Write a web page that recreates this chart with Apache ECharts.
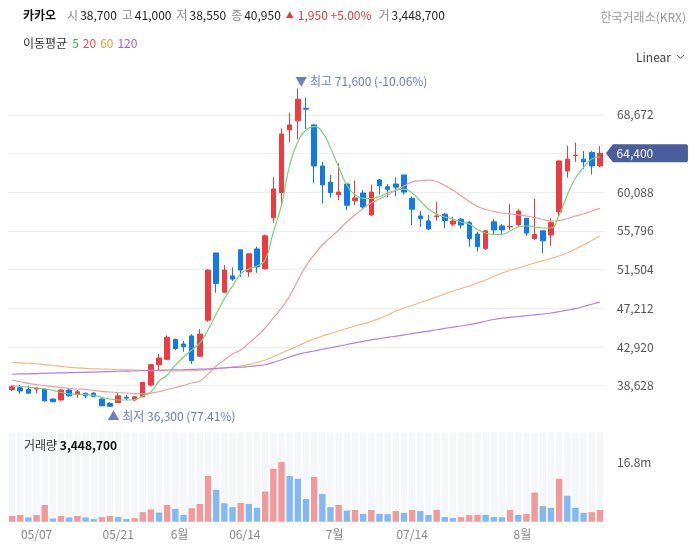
<!DOCTYPE html>
<html>
<head>
<meta charset="utf-8">
<script src="https://cdn.jsdelivr.net/npm/echarts@6.0.0/dist/echarts.min.js"></script>
<style>
html, body { margin: 0; padding: 0; background: #fff; }
#chart { width: 697px; height: 549px; }
</style>
</head>
<body>
<div id="chart"></div>
<script>
const dates = [
    '04/29', '04/30', '05/02', '05/07', '05/08', '05/09', '05/12', '05/13', '05/14', '05/15',
    '05/16', '05/19', '05/20', '05/21', '05/22', '05/23', '05/26', '05/27', '05/28', '05/29',
    '05/30', '06/02', '06/04', '06/05', '06/09', '06/10', '06/11', '06/12', '06/13', '06/16',
    '06/17', '06/18', '06/19', '06/20', '06/23', '06/24', '06/25', '06/26', '06/27', '06/30',
    '07/01', '07/02', '07/03', '07/04', '07/07', '07/08', '07/09', '07/10', '07/11', '07/14',
    '07/15', '07/16', '07/17', '07/18', '07/21', '07/22', '07/23', '07/24', '07/25', '07/28',
    '07/29', '07/30', '07/31', '08/01', '08/04', '08/05', '08/06', '08/07', '08/08', '08/11',
    '08/12', '08/13', '08/14'
]

const opens = [
    38200, 38400, 38200, 38250, 38250, 37150, 37050, 38150, 37650, 37800,
    37800, 37150, 36650, 36750, 37350, 37050, 37400, 38700, 40950, 41550,
    43750, 43250, 44150, 41900, 45900, 53350, 49000, 50800, 53700, 51250,
    53800, 51600, 57250, 60050, 67000, 68000, 69400, 67550, 63000, 61200,
    59800, 61000, 59150, 60000, 57550, 61450, 60700, 61000, 62000, 59400,
    57450, 56900, 57400, 57650, 56550, 57100, 56700, 55450, 53850, 56800,
    56350, 56250, 56500, 57200, 54950, 55800, 55350, 57900, 62450, 64150,
    63750, 64500, 63000
]
const closes = [
    38500, 38050, 37800, 38350, 36950, 36850, 38150, 37500, 37950, 37500,
    37450, 36400, 36350, 37500, 37250, 37400, 39000, 40950, 41700, 44000,
    42750, 42950, 41400, 44350, 51450, 49950, 51450, 50450, 51450, 53250,
    51800, 55250, 60450, 66550, 67550, 70400, 69300, 63000, 60900, 60050,
    60100, 58650, 59450, 58450, 60100, 60800, 60400, 60650, 60100, 58200,
    57150, 56000, 57450, 56950, 56900, 56450, 54950, 54050, 55800, 55900,
    55900, 56300, 58000, 55550, 55400, 54700, 56700, 63550, 63750, 64200,
    63450, 63000, 64400
]
const lows = [
    38050, 37750, 37800, 37800, 36850, 36800, 36950, 37400, 37300, 37250,
    37350, 36350, 36300, 36700, 37050, 36950, 37350, 38550, 40300, 41500,
    42600, 42400, 41050, 41850, 45700, 48950, 48950, 50250, 50700, 50700,
    51150, 51500, 56700, 58550, 65600, 65950, 67100, 61050, 58850, 59500,
    59200, 58100, 58650, 58200, 57500, 59850, 59500, 59650, 59850, 56450,
    56250, 55900, 56950, 56100, 56350, 56050, 54050, 53500, 53700, 55400,
    55300, 55900, 56250, 55250, 54800, 53300, 54100, 57300, 61700, 63450,
    62650, 62050, 62850
]
const highs = [
    38650, 38700, 38650, 38500, 38300, 37200, 38200, 38250, 38150, 37850,
    37900, 37200, 36800, 37950, 37600, 37500, 39050, 41000, 42150, 44200,
    43850, 43600, 44350, 44900, 51550, 53350, 52000, 51750, 53700, 53300,
    54050, 55400, 61750, 67150, 68850, 71600, 70600, 67600, 63450, 62000,
    63300, 61000, 61350, 60350, 60950, 61550, 61000, 61750, 62000, 59600,
    58000, 57550, 59050, 57800, 57350, 57200, 56900, 55700, 55850, 57100,
    56550, 58800, 58200, 57250, 59350, 55900, 57200, 63600, 65250, 65600,
    64650, 64650, 65200
]
const volumes = [
    1600000, 1900000, 1200000, 1900000, 4700000, 900000, 1600000, 1200000, 1600000, 1200000,
    750000, 1300000, 1600000, 1300000, 750000, 1000000, 2700000, 3448700, 2600000, 4700000,
    3600000, 1900000, 3800000, 5000000, 12900000, 9000000, 5200000, 4100000, 5300000, 5000000,
    3900000, 8500000, 14900000, 16800000, 12900000, 12100000, 6400000, 12600000, 7800000, 4100000,
    4700000, 3100000, 3300000, 2200000, 3300000, 2200000, 2150000, 3000000, 2500000, 3300000,
    3000000, 1900000, 3300000, 1300000, 1000000, 1300000, 1850000, 1950000, 1900000, 1300000,
    1250000, 3300000, 1900000, 2200000, 8200000, 4400000, 3900000, 12100000, 7300000, 3900000,
    2500000, 2700000, 3300000
]

// moving averages as drawn
const ma5 = [
    38650, 38540, 38480, 38370, 38260, 38100, 37870, 37710, 37680, 37650,
    37560, 37320, 37150, 37040, 37040, 37100, 37490, 37930, 39150, 39820,
    40920, 41810, 42590, 43360, 44810, 46580, 48240, 49690, 51020, 51570,
    51900, 52570, 55670, 58670, 63100, 65660, 66990, 67370, 66760, 64990,
    62880, 60890, 59830, 59410, 59390, 59610, 60000, 60280, 60440, 60000,
    59110, 58220, 57670, 57340, 57120, 56780, 56560, 55950, 55560, 55400,
    55400, 55780, 56230, 56340, 56230, 56120, 56120, 57560, 59780, 61660,
    62830, 63770, 63990
]
const ma20 = [
    39260, 39070, 38890, 38760, 38630, 38520, 38430, 38340, 38260, 38210,
    38100, 37990, 37930, 37870, 37820, 37760, 37730, 37820, 37960, 38210,
    38430, 38650, 38930, 39150, 39930, 40810, 41480, 42140, 42590, 43360,
    44140, 45030, 46140, 47250, 48580, 50300, 51900, 53150, 54230, 55060,
    55900, 56780, 57560, 58280, 58890, 59330, 59780, 60330, 60780, 61220,
    61360, 61420, 61270, 60830, 60330, 59670, 59060, 58500, 58170, 57950,
    57780, 57670, 57560, 57450, 57280, 57060, 56890, 56950, 57170, 57450,
    57670, 58000, 58300
]
const ma60 = [
    41200, 41170, 41120, 41060, 40970, 40870, 40780, 40670, 40610, 40550,
    40500, 40480, 40450, 40410, 40390, 40370, 40340, 40300, 40270, 40260,
    40260, 40280, 40300, 40330, 40400, 40500, 40590, 40700, 40810, 40980,
    41200, 41480, 41870, 42250, 42640, 43030, 43470, 43810, 44140, 44420,
    44690, 44970, 45250, 45490, 45750, 46080, 46470, 46910, 47250, 47520,
    47860, 48130, 48470, 48800, 49130, 49410, 49690, 50020, 50350, 50740,
    51130, 51400, 51680, 51960, 52240, 52510, 52740, 53010, 53350, 53790,
    54230, 54730, 55230
]
const ma120 = [
    39900, 39930, 39950, 39970, 40000, 40030, 40050, 40070, 40090, 40110,
    40140, 40170, 40190, 40230, 40250, 40270, 40300, 40330, 40350, 40370,
    40390, 40410, 40440, 40460, 40500, 40560, 40600, 40650, 40680, 40760,
    40850, 40950, 41220, 41500, 41810, 42110, 42310, 42480, 42670, 42840,
    43010, 43200, 43380, 43550, 43720, 43850, 43990, 44120, 44260, 44410,
    44550, 44690, 44830, 44980, 45120, 45250, 45400, 45560, 45780, 45970,
    46110, 46210, 46300, 46390, 46490, 46580, 46690, 46840, 47000, 47180,
    47410, 47660, 47890
]

// edge: label sits on the boundary before that trading day
const tickLabels = [
    { at: '05/07', text: '05/07' },
    { at: '05/21', text: '05/21' },
    { at: '06/02', text: '6월', edge: true },
    { at: '06/16', text: '06/14', edge: true },
    { at: '07/01', text: '7월', edge: true },
    { at: '07/14', text: '07/14' },
    { at: '08/01', text: '8월', edge: true }
]

const priceTicks = { min: 34336, max: 72964, interval: 4292 }
const volTicks = { min: 0, max: 25200000, interval: 16800000 }
const infoIndex = 17

const FONT = "'Noto Sans CJK KR', 'Noto Sans', sans-serif"
const UP = '#ef3b40'
const DOWN = '#127ae8'

const fmt = v => Math.round(v).toLocaleString('en-US')

let chart = echarts.init(document.getElementById('chart'))

let last = closes[closes.length - 1]
let hiIdx = highs.indexOf(Math.max(...highs))
let loIdx = lows.indexOf(Math.min(...lows))
let hiPct = ((last - highs[hiIdx]) / highs[hiIdx] * 100).toFixed(2)
let loPct = ((last - lows[loIdx]) / lows[loIdx] * 100).toFixed(2)

let chg = closes[infoIndex] - closes[infoIndex - 1]
let chgPct = (chg / closes[infoIndex - 1] * 100).toFixed(2)
let header = '{n|카카오}' +
    '{l|시}{v|' + fmt(opens[infoIndex]) + '}' +
    '{l|고}{v|' + fmt(highs[infoIndex]) + '}' +
    '{l|저}{v|' + fmt(lows[infoIndex]) + '}' +
    '{l|종}{v|' + fmt(closes[infoIndex]) + '}' +
    '{t|▲}{u|' + fmt(chg) + ' +' + chgPct + '%}' +
    '{l|거}{v|' + fmt(volumes[infoIndex]) + '}'

let tickMap = new Map(tickLabels.map(t => [t.at, t]))

let candleData = dates.map((d, i) => [opens[i], closes[i], lows[i], highs[i]])

function maSeries(name, data, color) {
    return {
        name: name,
        type: 'line',
        xAxisIndex: 0,
        yAxisIndex: 0,
        data: data,
        showSymbol: false,
        smooth: true,
        lineStyle: { color: color, width: 1.2 },
        z: 3
    }
}

let chartOpt = {
    animation: false,
    textStyle: { fontFamily: FONT },
    grid: [
        { left: 8, right: 93, top: 76.1, bottom: 124.6 },
        { left: 8, right: 93, top: 432.3, bottom: 27.3 }
    ],
    xAxis: [{
        type: 'category',
        gridIndex: 0,
        data: dates,
        axisLine: { show: false },
        axisTick: { show: false },
        axisLabel: { show: false },
        splitLine: { show: false }
    }, {
        type: 'category',
        gridIndex: 1,
        data: dates,
        axisLine: { show: false },
        axisTick: { show: false },
        splitLine: { show: false },
        axisLabel: {
            interval: (i, v) => tickMap.has(v),
            formatter: v => {
                let t = tickMap.get(v)
                if (!t) return ''
                return t.edge ? '{e|' + t.text + '}' : t.text
            },
            color: '#8a8a8a',
            fontSize: 12,
            margin: 7,
            rich: {
                e: { color: '#8a8a8a', fontSize: 12, padding: [0, 8, 0, 0] }
            }
        }
    }],
    yAxis: [{
        type: 'value',
        gridIndex: 0,
        position: 'right',
        min: priceTicks.min,
        max: priceTicks.max,
        interval: priceTicks.interval,
        axisLine: { show: false },
        axisTick: { show: false },
        splitLine: {
            show: true,
            showMinLine: false,
            showMaxLine: false,
            lineStyle: { color: '#efeff1', width: 1 }
        },
        axisLabel: {
            showMinLabel: false,
            showMaxLabel: false,
            color: '#555',
            fontSize: 12,
            margin: 13,
            formatter: fmt
        }
    }, {
        type: 'value',
        gridIndex: 1,
        position: 'right',
        min: volTicks.min,
        max: volTicks.max,
        interval: volTicks.interval,
        axisLine: { show: false },
        axisTick: { show: false },
        splitLine: { show: false },
        axisLabel: {
            showMinLabel: false,
            showMaxLabel: false,
            color: '#555',
            fontSize: 12,
            margin: 13,
            formatter: v => (v / 1e6).toFixed(1) + 'm'
        }
    }],
    series: [{
        name: '카카오',
        type: 'candlestick',
        xAxisIndex: 0,
        yAxisIndex: 0,
        data: candleData,
        barWidth: 5,
        itemStyle: {
            color: UP,
            color0: DOWN,
            borderColor: UP,
            borderColor0: DOWN,
            borderWidth: 1
        },
        markPoint: {
            z: 10,
            data: [{
                coord: [dates[hiIdx], highs[hiIdx]],
                symbol: 'circle',
                symbolSize: 1,
                itemStyle: { color: 'rgba(0,0,0,0)' },
                label: {
                    show: true,
                    formatter: '▼ 최고 ' + fmt(highs[hiIdx]) + ' (' + hiPct + '%)',
                    position: [-2, -6],
                    align: 'left',
                    verticalAlign: 'middle',
                    color: '#6f80b6',
                    fontSize: 12
                }
            }, {
                coord: [dates[loIdx], lows[loIdx]],
                symbol: 'circle',
                symbolSize: 1,
                itemStyle: { color: 'rgba(0,0,0,0)' },
                label: {
                    show: true,
                    formatter: '▲ 최저 ' + fmt(lows[loIdx]) + ' (' + loPct + '%)',
                    position: [-2, 10],
                    align: 'left',
                    verticalAlign: 'middle',
                    color: '#6f80b6',
                    fontSize: 12
                }
            }, {
                coord: [dates[dates.length - 1], last],
                symbol: 'path://M0,9L7,0H80Q82,0 82,2V16Q82,18 80,18H7Z',
                symbolSize: [82, 18],
                symbolOffset: [47, 0],
                itemStyle: { color: '#4b5e9c' },
                label: {
                    show: true,
                    formatter: fmt(last),
                    color: '#fff',
                    fontSize: 12,
                    offset: [-12, 0]
                }
            }]
        }
    },
    maSeries('MA5', ma5, '#74d674'),
    maSeries('MA20', ma20, '#f79a9c'),
    maSeries('MA60', ma60, '#fab676'),
    maSeries('MA120', ma120, '#b17df6'),
    {
        name: '거래량',
        type: 'bar',
        xAxisIndex: 1,
        yAxisIndex: 1,
        data: volumes,
        barWidth: 6.4,
        showBackground: true,
        backgroundStyle: { color: '#f4f6fa' },
        itemStyle: {
            color: p => (p.dataIndex === 0 || volumes[p.dataIndex] >= volumes[p.dataIndex - 1]) ? '#f29a9b' : '#82b9f4'
        }
    }],
    graphic: [{
        type: 'text',
        x: 23,
        y: 15,
        z: 100,
        style: {
            text: header,
            verticalAlign: 'middle',
            fontFamily: FONT,
            fontSize: 12,
            rich: {
                n: { fontSize: 12, fontWeight: 'bold', fill: '#111', fontFamily: FONT, padding: [0, 11, 0, 0] },
                l: { fontSize: 12, fill: '#8c8c8c', fontFamily: FONT, padding: [0, 2, 0, 0] },
                v: { fontSize: 12, fill: '#222', fontFamily: FONT, padding: [0, 5, 0, 0] },
                t: { fontSize: 8, fill: '#e8383d', fontFamily: FONT, padding: [0, 4, 0, 0] },
                u: { fontSize: 12, fill: '#e8383d', fontFamily: FONT, padding: [0, 7, 0, 0] }
            }
        }
    }, {
        type: 'text',
        x: 686,
        y: 17,
        z: 100,
        style: {
            text: '한국거래소(KRX)',
            align: 'right',
            verticalAlign: 'middle',
            fill: '#999',
            fontFamily: FONT,
            fontSize: 12
        }
    }, {
        type: 'text',
        x: 23,
        y: 43,
        z: 100,
        style: {
            text: '{a|이동평균}{g|5}{r|20}{o|60}{p|120}',
            verticalAlign: 'middle',
            fontFamily: FONT,
            fontSize: 12,
            rich: {
                a: { fill: '#333', fontSize: 12, fontFamily: FONT, padding: [0, 5, 0, 0] },
                g: { fill: '#3cb93c', fontSize: 12, fontFamily: FONT, padding: [0, 4, 0, 0] },
                r: { fill: '#f0485a', fontSize: 12, fontFamily: FONT, padding: [0, 4, 0, 0] },
                o: { fill: '#f5993c', fontSize: 12, fontFamily: FONT, padding: [0, 4, 0, 0] },
                p: { fill: '#9d5cf2', fontSize: 12, fontFamily: FONT }
            }
        }
    }, {
        type: 'text',
        x: 636,
        y: 57,
        z: 100,
        style: {
            text: 'Linear',
            verticalAlign: 'middle',
            fill: '#444',
            fontFamily: FONT,
            fontSize: 12
        }
    }, {
        type: 'polyline',
        z: 100,
        shape: { points: [[677, 55], [680.5, 58.5], [684, 55]] },
        style: { stroke: '#666', lineWidth: 1, fill: null }
    }, {
        type: 'text',
        x: 24,
        y: 445,
        z: 100,
        style: {
            text: '{a|거래량 }{b|' + fmt(volumes[infoIndex]) + '}',
            verticalAlign: 'middle',
            fontFamily: FONT,
            fontSize: 12,
            rich: {
                a: { fill: '#333', fontSize: 12, fontFamily: FONT },
                b: { fill: '#111', fontSize: 12, fontWeight: 'bold', fontFamily: FONT }
            }
        }
    }]
}

chart.setOption(chartOpt)
</script>
</body>
</html>
